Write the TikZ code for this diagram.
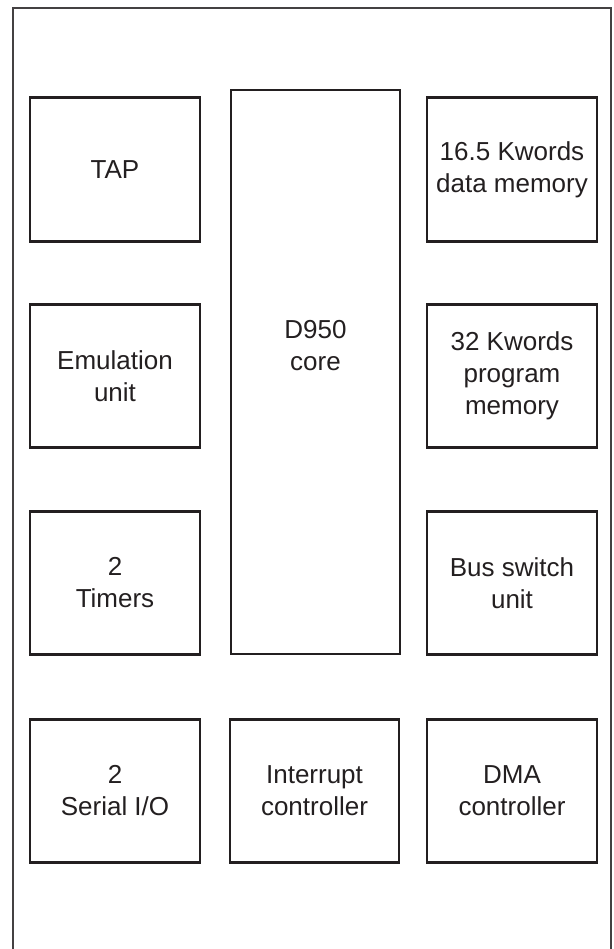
\documentclass[tikz,border=0pt]{standalone}
\usepackage{fontspec}
\setmainfont{Liberation Sans}
\usepackage{tikz}
\usetikzlibrary{positioning}

\definecolor{ink}{HTML}{231F20}

\tikzset{
  blk/.style={draw=ink, line width=2.7pt, rectangle, minimum width=170pt,
    minimum height=143.5pt, inner sep=0pt, align=center, text=ink,
    font=\fontsize{26}{32}\selectfont},
  lbl/.style={align=center, text=ink, inner sep=0pt,
    font=\fontsize{26}{32}\selectfont}
}

\begin{document}
\begin{tikzpicture}[x=1pt, y=-1pt]

  \useasboundingbox (0,0) rectangle (613,949);

  % outer frame, open at the bottom
  \draw[ink!85, line width=2.2pt] (13,952) -- (13,8) -- (611,8) -- (611,952);

  % left column
  \node[blk] (tap)   at (115,169.5) {TAP};
  \node[blk] (emu)   at (115,376)   {Emulation\\unit};
  \node[blk] (tim)   at (115,583)   {2\\Timers};
  \node[blk] (sio)   at (115,791)   {2\\Serial I/O};

  % middle column
  \node[blk, minimum width=169pt, minimum height=564pt] (core) at (315.5,372) {};
  \node[lbl] (corelbl) at (315.5,346) {D950\\core};
  \node[blk, minimum width=169pt] (irq) at (314.5,791) {Interrupt\\controller};

  % right column
  \node[blk] (dmem)  at (512,169.5) {16.5 Kwords\\data memory};
  \node[blk] (pmem)  at (512,376)   {32 Kwords\\program\\memory};
  \node[blk] (bsw)   at (512,583)   {Bus switch\\unit};
  \node[blk] (dma)   at (512,791)   {DMA\\controller};

\end{tikzpicture}
\end{document}
